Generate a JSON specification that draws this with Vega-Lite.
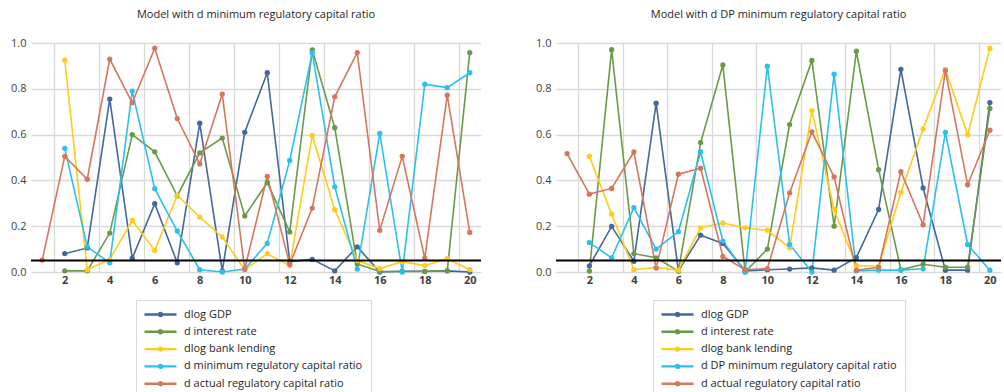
{
  "$schema": "https://vega.github.io/schema/vega-lite/v6.json",
  "padding": {"left": 10, "top": 9, "right": 0, "bottom": 0},
  "background": "white",
  "config": {
    "font": "Open Sans",
    "view": {"stroke": null},
    "axis": {"gridColor": "#d9d9d9", "gridWidth": 1.3, "labelFont": "Open Sans", "labelColor": "#404040", "labelFontSize": 11},
    "legend": {"labelFont": "Open Sans"},
    "title": {"font": "Open Sans"}
  },
  "datasets": {
    "left": [
      {"s": "dlog GDP", "x": 2, "y": 0.08}, {"s": "dlog GDP", "x": 3, "y": 0.105}, {"s": "dlog GDP", "x": 4, "y": 0.755}, {"s": "dlog GDP", "x": 5, "y": 0.06}, {"s": "dlog GDP", "x": 6, "y": 0.298}, {"s": "dlog GDP", "x": 7, "y": 0.04}, {"s": "dlog GDP", "x": 8, "y": 0.65}, {"s": "dlog GDP", "x": 9, "y": 0.005}, {"s": "dlog GDP", "x": 10, "y": 0.61}, {"s": "dlog GDP", "x": 11, "y": 0.87}, {"s": "dlog GDP", "x": 12, "y": 0.045}, {"s": "dlog GDP", "x": 13, "y": 0.055}, {"s": "dlog GDP", "x": 14, "y": 0.005}, {"s": "dlog GDP", "x": 15, "y": 0.11}, {"s": "dlog GDP", "x": 16, "y": 0.0}, {"s": "dlog GDP", "x": 17, "y": 0.003}, {"s": "dlog GDP", "x": 18, "y": 0.003}, {"s": "dlog GDP", "x": 19, "y": 0.005}, {"s": "dlog GDP", "x": 20, "y": 0.0},
      {"s": "d interest rate", "x": 2, "y": 0.005}, {"s": "d interest rate", "x": 3, "y": 0.005}, {"s": "d interest rate", "x": 4, "y": 0.17}, {"s": "d interest rate", "x": 5, "y": 0.6}, {"s": "d interest rate", "x": 6, "y": 0.525}, {"s": "d interest rate", "x": 7, "y": 0.333}, {"s": "d interest rate", "x": 8, "y": 0.52}, {"s": "d interest rate", "x": 9, "y": 0.585}, {"s": "d interest rate", "x": 10, "y": 0.245}, {"s": "d interest rate", "x": 11, "y": 0.39}, {"s": "d interest rate", "x": 12, "y": 0.175}, {"s": "d interest rate", "x": 13, "y": 0.97}, {"s": "d interest rate", "x": 14, "y": 0.63}, {"s": "d interest rate", "x": 15, "y": 0.035}, {"s": "d interest rate", "x": 16, "y": 0.002}, {"s": "d interest rate", "x": 17, "y": 0.002}, {"s": "d interest rate", "x": 18, "y": 0.002}, {"s": "d interest rate", "x": 19, "y": 0.005}, {"s": "d interest rate", "x": 20, "y": 0.958},
      {"s": "dlog bank lending", "x": 2, "y": 0.925}, {"s": "dlog bank lending", "x": 3, "y": 0.01}, {"s": "dlog bank lending", "x": 4, "y": 0.055}, {"s": "dlog bank lending", "x": 5, "y": 0.225}, {"s": "dlog bank lending", "x": 6, "y": 0.094}, {"s": "dlog bank lending", "x": 7, "y": 0.335}, {"s": "dlog bank lending", "x": 8, "y": 0.24}, {"s": "dlog bank lending", "x": 9, "y": 0.153}, {"s": "dlog bank lending", "x": 10, "y": 0.01}, {"s": "dlog bank lending", "x": 11, "y": 0.08}, {"s": "dlog bank lending", "x": 12, "y": 0.028}, {"s": "dlog bank lending", "x": 13, "y": 0.597}, {"s": "dlog bank lending", "x": 14, "y": 0.272}, {"s": "dlog bank lending", "x": 15, "y": 0.05}, {"s": "dlog bank lending", "x": 16, "y": 0.015}, {"s": "dlog bank lending", "x": 17, "y": 0.045}, {"s": "dlog bank lending", "x": 18, "y": 0.028}, {"s": "dlog bank lending", "x": 19, "y": 0.058}, {"s": "dlog bank lending", "x": 20, "y": 0.01},
      {"s": "d minimum regulatory capital ratio", "x": 2, "y": 0.54}, {"s": "d minimum regulatory capital ratio", "x": 3, "y": 0.11}, {"s": "d minimum regulatory capital ratio", "x": 4, "y": 0.04}, {"s": "d minimum regulatory capital ratio", "x": 5, "y": 0.79}, {"s": "d minimum regulatory capital ratio", "x": 6, "y": 0.364}, {"s": "d minimum regulatory capital ratio", "x": 7, "y": 0.179}, {"s": "d minimum regulatory capital ratio", "x": 8, "y": 0.01}, {"s": "d minimum regulatory capital ratio", "x": 9, "y": 0.0}, {"s": "d minimum regulatory capital ratio", "x": 10, "y": 0.013}, {"s": "d minimum regulatory capital ratio", "x": 11, "y": 0.125}, {"s": "d minimum regulatory capital ratio", "x": 12, "y": 0.487}, {"s": "d minimum regulatory capital ratio", "x": 13, "y": 0.957}, {"s": "d minimum regulatory capital ratio", "x": 14, "y": 0.372}, {"s": "d minimum regulatory capital ratio", "x": 15, "y": 0.013}, {"s": "d minimum regulatory capital ratio", "x": 16, "y": 0.605}, {"s": "d minimum regulatory capital ratio", "x": 17, "y": 0.0}, {"s": "d minimum regulatory capital ratio", "x": 18, "y": 0.82}, {"s": "d minimum regulatory capital ratio", "x": 19, "y": 0.805}, {"s": "d minimum regulatory capital ratio", "x": 20, "y": 0.87},
      {"s": "d actual regulatory capital ratio", "x": 1, "y": 0.052}, {"s": "d actual regulatory capital ratio", "x": 2, "y": 0.505}, {"s": "d actual regulatory capital ratio", "x": 3, "y": 0.405}, {"s": "d actual regulatory capital ratio", "x": 4, "y": 0.93}, {"s": "d actual regulatory capital ratio", "x": 5, "y": 0.739}, {"s": "d actual regulatory capital ratio", "x": 6, "y": 0.977}, {"s": "d actual regulatory capital ratio", "x": 7, "y": 0.67}, {"s": "d actual regulatory capital ratio", "x": 8, "y": 0.472}, {"s": "d actual regulatory capital ratio", "x": 9, "y": 0.777}, {"s": "d actual regulatory capital ratio", "x": 10, "y": 0.013}, {"s": "d actual regulatory capital ratio", "x": 11, "y": 0.418}, {"s": "d actual regulatory capital ratio", "x": 12, "y": 0.033}, {"s": "d actual regulatory capital ratio", "x": 13, "y": 0.279}, {"s": "d actual regulatory capital ratio", "x": 14, "y": 0.765}, {"s": "d actual regulatory capital ratio", "x": 15, "y": 0.958}, {"s": "d actual regulatory capital ratio", "x": 16, "y": 0.182}, {"s": "d actual regulatory capital ratio", "x": 17, "y": 0.505}, {"s": "d actual regulatory capital ratio", "x": 18, "y": 0.06}, {"s": "d actual regulatory capital ratio", "x": 19, "y": 0.772}, {"s": "d actual regulatory capital ratio", "x": 20, "y": 0.173}
    ],
    "right": [
      {"s": "dlog GDP", "x": 2, "y": 0.027}, {"s": "dlog GDP", "x": 3, "y": 0.199}, {"s": "dlog GDP", "x": 4, "y": 0.047}, {"s": "dlog GDP", "x": 5, "y": 0.737}, {"s": "dlog GDP", "x": 6, "y": 0.005}, {"s": "dlog GDP", "x": 7, "y": 0.161}, {"s": "dlog GDP", "x": 8, "y": 0.125}, {"s": "dlog GDP", "x": 9, "y": 0.005}, {"s": "dlog GDP", "x": 10, "y": 0.01}, {"s": "dlog GDP", "x": 11, "y": 0.013}, {"s": "dlog GDP", "x": 12, "y": 0.018}, {"s": "dlog GDP", "x": 13, "y": 0.008}, {"s": "dlog GDP", "x": 14, "y": 0.063}, {"s": "dlog GDP", "x": 15, "y": 0.273}, {"s": "dlog GDP", "x": 16, "y": 0.885}, {"s": "dlog GDP", "x": 17, "y": 0.367}, {"s": "dlog GDP", "x": 18, "y": 0.008}, {"s": "dlog GDP", "x": 19, "y": 0.008}, {"s": "dlog GDP", "x": 20, "y": 0.74},
      {"s": "d interest rate", "x": 2, "y": 0.004}, {"s": "d interest rate", "x": 3, "y": 0.971}, {"s": "d interest rate", "x": 4, "y": 0.08}, {"s": "d interest rate", "x": 5, "y": 0.062}, {"s": "d interest rate", "x": 6, "y": 0.004}, {"s": "d interest rate", "x": 7, "y": 0.565}, {"s": "d interest rate", "x": 8, "y": 0.904}, {"s": "d interest rate", "x": 9, "y": 0.0}, {"s": "d interest rate", "x": 10, "y": 0.1}, {"s": "d interest rate", "x": 11, "y": 0.644}, {"s": "d interest rate", "x": 12, "y": 0.924}, {"s": "d interest rate", "x": 13, "y": 0.2}, {"s": "d interest rate", "x": 14, "y": 0.964}, {"s": "d interest rate", "x": 15, "y": 0.447}, {"s": "d interest rate", "x": 16, "y": 0.01}, {"s": "d interest rate", "x": 17, "y": 0.034}, {"s": "d interest rate", "x": 18, "y": 0.021}, {"s": "d interest rate", "x": 19, "y": 0.021}, {"s": "d interest rate", "x": 20, "y": 0.714},
      {"s": "dlog bank lending", "x": 2, "y": 0.505}, {"s": "dlog bank lending", "x": 3, "y": 0.253}, {"s": "dlog bank lending", "x": 4, "y": 0.01}, {"s": "dlog bank lending", "x": 5, "y": 0.02}, {"s": "dlog bank lending", "x": 6, "y": 0.008}, {"s": "dlog bank lending", "x": 7, "y": 0.193}, {"s": "dlog bank lending", "x": 8, "y": 0.214}, {"s": "dlog bank lending", "x": 9, "y": 0.193}, {"s": "dlog bank lending", "x": 10, "y": 0.182}, {"s": "dlog bank lending", "x": 11, "y": 0.106}, {"s": "dlog bank lending", "x": 12, "y": 0.705}, {"s": "dlog bank lending", "x": 13, "y": 0.272}, {"s": "dlog bank lending", "x": 14, "y": 0.028}, {"s": "dlog bank lending", "x": 15, "y": 0.025}, {"s": "dlog bank lending", "x": 16, "y": 0.348}, {"s": "dlog bank lending", "x": 17, "y": 0.625}, {"s": "dlog bank lending", "x": 18, "y": 0.885}, {"s": "dlog bank lending", "x": 19, "y": 0.599}, {"s": "dlog bank lending", "x": 20, "y": 0.977},
      {"s": "d DP minimum regulatory capital ratio", "x": 2, "y": 0.128}, {"s": "d DP minimum regulatory capital ratio", "x": 3, "y": 0.062}, {"s": "d DP minimum regulatory capital ratio", "x": 4, "y": 0.281}, {"s": "d DP minimum regulatory capital ratio", "x": 5, "y": 0.1}, {"s": "d DP minimum regulatory capital ratio", "x": 6, "y": 0.176}, {"s": "d DP minimum regulatory capital ratio", "x": 7, "y": 0.524}, {"s": "d DP minimum regulatory capital ratio", "x": 8, "y": 0.135}, {"s": "d DP minimum regulatory capital ratio", "x": 9, "y": 0.0}, {"s": "d DP minimum regulatory capital ratio", "x": 10, "y": 0.899}, {"s": "d DP minimum regulatory capital ratio", "x": 11, "y": 0.12}, {"s": "d DP minimum regulatory capital ratio", "x": 12, "y": 0.0}, {"s": "d DP minimum regulatory capital ratio", "x": 13, "y": 0.864}, {"s": "d DP minimum regulatory capital ratio", "x": 14, "y": 0.005}, {"s": "d DP minimum regulatory capital ratio", "x": 15, "y": 0.008}, {"s": "d DP minimum regulatory capital ratio", "x": 16, "y": 0.008}, {"s": "d DP minimum regulatory capital ratio", "x": 17, "y": 0.014}, {"s": "d DP minimum regulatory capital ratio", "x": 18, "y": 0.61}, {"s": "d DP minimum regulatory capital ratio", "x": 19, "y": 0.12}, {"s": "d DP minimum regulatory capital ratio", "x": 20, "y": 0.008},
      {"s": "d actual regulatory capital ratio", "x": 1, "y": 0.517}, {"s": "d actual regulatory capital ratio", "x": 2, "y": 0.34}, {"s": "d actual regulatory capital ratio", "x": 3, "y": 0.365}, {"s": "d actual regulatory capital ratio", "x": 4, "y": 0.524}, {"s": "d actual regulatory capital ratio", "x": 5, "y": 0.017}, {"s": "d actual regulatory capital ratio", "x": 6, "y": 0.427}, {"s": "d actual regulatory capital ratio", "x": 7, "y": 0.453}, {"s": "d actual regulatory capital ratio", "x": 8, "y": 0.068}, {"s": "d actual regulatory capital ratio", "x": 9, "y": 0.01}, {"s": "d actual regulatory capital ratio", "x": 10, "y": 0.015}, {"s": "d actual regulatory capital ratio", "x": 11, "y": 0.345}, {"s": "d actual regulatory capital ratio", "x": 12, "y": 0.612}, {"s": "d actual regulatory capital ratio", "x": 13, "y": 0.415}, {"s": "d actual regulatory capital ratio", "x": 14, "y": 0.008}, {"s": "d actual regulatory capital ratio", "x": 15, "y": 0.021}, {"s": "d actual regulatory capital ratio", "x": 16, "y": 0.438}, {"s": "d actual regulatory capital ratio", "x": 17, "y": 0.206}, {"s": "d actual regulatory capital ratio", "x": 18, "y": 0.879}, {"s": "d actual regulatory capital ratio", "x": 19, "y": 0.381}, {"s": "d actual regulatory capital ratio", "x": 20, "y": 0.619}
    ]
  },
  "spacing": 53,
  "resolve": {"scale": {"color": "independent"}, "legend": {"color": "independent"}},
  "hconcat": [
    {
      "width": 450,
      "height": 229,
      "title": {"text": "Model with d minimum regulatory capital ratio", "fontSize": 11, "fontWeight": "normal", "color": "#262626", "offset": 17},
      "layer": [
        {
          "data": {"name": "left"},
          "mark": {"type": "line", "strokeWidth": 1.6, "point": {"filled": true, "size": 28, "opacity": 1}},
          "encoding": {
            "x": {"field": "x", "type": "quantitative", "scale": {"domain": [0.5, 20.5], "nice": false, "zero": false},
              "axis": {"title": null, "values": [1.5, 2, 3.5, 4, 5.5, 6, 7.5, 8, 9.5, 10, 11.5, 12, 13.5, 14, 15.5, 16, 17.5, 18, 19.5, 20],
                "labelExpr": "datum.value % 1 == 0 ? datum.label : ''", "labelOverlap": false, "labelFlush": false,
                "gridOpacity": {"condition": {"test": "datum.value % 1 != 0", "value": 1}, "value": 0},
                "ticks": false, "domain": false, "labelPadding": 2, "labelFontWeight": "bold", "labelColor": "#404040"}},
            "y": {"field": "y", "type": "quantitative", "scale": {"domain": [0, 1], "nice": false},
              "axis": {"title": null, "values": [0, 0.2, 0.4, 0.6, 0.8, 1.0], "format": ".1f", "ticks": false, "domain": false, "labelPadding": 5, "labelColor": "#404040"}},
            "color": {"field": "s", "type": "nominal",
              "scale": {"domain": ["dlog GDP", "d interest rate", "dlog bank lending", "d minimum regulatory capital ratio", "d actual regulatory capital ratio"],
                "range": ["#44679D", "#6A9A48", "#FFCC1A", "#2BC0EE", "#D4775E"]},
              "sort": ["dlog GDP", "d interest rate", "dlog bank lending", "d minimum regulatory capital ratio", "d actual regulatory capital ratio"],
              "legend": {"orient": "none", "legendX": 105, "legendY": 257, "title": null, "strokeColor": "#d9d9d9", "padding": 8,
                "symbolType": "M-1.2,0L5.2,0M1.7,0a0.3,0.3 0 1,0 0.6,0a0.3,0.3 0 1,0 -0.6,0", "symbolSize": 100, "symbolStrokeWidth": 2.4,
                "labelOffset": 27, "labelFontSize": 11, "rowPadding": 4.3, "labelColor": "#262626", "labelLimit": 400}}
          }
        },
        {
          "data": {"values": [{}]},
          "mark": {"type": "rule", "color": "black", "strokeWidth": 2},
          "encoding": {"y": {"datum": 0.05}}
        }
      ]
    },
    {
      "width": 445,
      "height": 229,
      "title": {"text": "Model with d DP minimum regulatory capital ratio", "fontSize": 11, "fontWeight": "normal", "color": "#262626", "offset": 17},
      "layer": [
        {
          "data": {"name": "right"},
          "mark": {"type": "line", "strokeWidth": 1.6, "point": {"filled": true, "size": 28, "opacity": 1}},
          "encoding": {
            "x": {"field": "x", "type": "quantitative", "scale": {"domain": [0.5, 20.5], "nice": false, "zero": false},
              "axis": {"title": null, "values": [1.5, 2, 3.5, 4, 5.5, 6, 7.5, 8, 9.5, 10, 11.5, 12, 13.5, 14, 15.5, 16, 17.5, 18, 19.5, 20],
                "labelExpr": "datum.value % 1 == 0 ? datum.label : ''", "labelOverlap": false, "labelFlush": false,
                "gridOpacity": {"condition": {"test": "datum.value % 1 != 0", "value": 1}, "value": 0},
                "ticks": false, "domain": false, "labelPadding": 2, "labelFontWeight": "bold", "labelColor": "#404040"}},
            "y": {"field": "y", "type": "quantitative", "scale": {"domain": [0, 1], "nice": false},
              "axis": {"title": null, "values": [0, 0.2, 0.4, 0.6, 0.8, 1.0], "format": ".1f", "ticks": false, "domain": false, "labelPadding": 5, "labelColor": "#404040"}},
            "color": {"field": "s", "type": "nominal",
              "scale": {"domain": ["dlog GDP", "d interest rate", "dlog bank lending", "d DP minimum regulatory capital ratio", "d actual regulatory capital ratio"],
                "range": ["#44679D", "#6A9A48", "#FFCC1A", "#2BC0EE", "#D4775E"]},
              "sort": ["dlog GDP", "d interest rate", "dlog bank lending", "d DP minimum regulatory capital ratio", "d actual regulatory capital ratio"],
              "legend": {"orient": "none", "legendX": 97, "legendY": 257, "title": null, "strokeColor": "#d9d9d9", "padding": 8,
                "symbolType": "M-1.2,0L5.2,0M1.7,0a0.3,0.3 0 1,0 0.6,0a0.3,0.3 0 1,0 -0.6,0", "symbolSize": 100, "symbolStrokeWidth": 2.4,
                "labelOffset": 27, "labelFontSize": 11, "rowPadding": 4.3, "labelColor": "#262626", "labelLimit": 400}}
          }
        },
        {
          "data": {"values": [{}]},
          "mark": {"type": "rule", "color": "black", "strokeWidth": 2},
          "encoding": {"y": {"datum": 0.05}}
        }
      ]
    }
  ]
}
